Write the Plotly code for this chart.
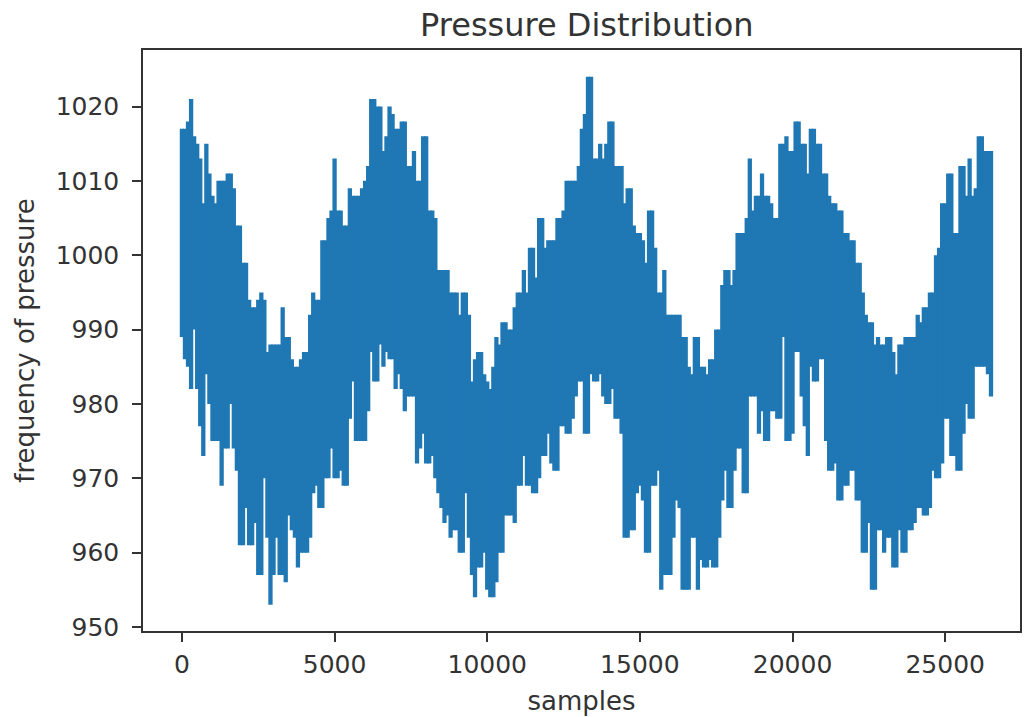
import plotly.graph_objects as go

sample_step = 100
pressure_high = [
1017,1017,1018,1021,1016,1015,1013,1007,1015,1011,
1008,1007,1010,1010,1010,1011,1011,1009,1004,1004,
999,999,994,993,993,994,995,994,987,988,
988,988,988,993,989,989,986,985,985,986,
987,987,992,995,994,994,1002,1002,1005,1006,
1013,1006,1006,1004,1004,1009,1008,1008,1008,1009,
1010,1012,1021,1021,1020,1020,1014,1016,1020,1019,
1017,1017,1018,1018,1012,1012,1014,1010,1010,1016,
1016,1006,1006,1005,998,998,998,998,995,995,
995,992,995,995,992,983,986,987,987,984,
983,982,985,989,988,991,991,990,990,993,
995,995,998,995,1001,1001,997,1005,1005,1001,
1002,1002,1002,1005,1005,1006,1010,1010,1010,1010,
1012,1017,1019,1024,1024,1013,1013,1015,1013,1015,
1018,1018,1012,1012,1012,1007,1009,1009,1004,1003,
1003,1002,999,1006,1006,1001,995,995,998,992,
992,992,992,992,989,989,985,984,989,989,
985,985,984,986,986,990,990,996,998,998,
996,998,1003,1003,1003,1005,1013,1006,1008,1008,
1011,1008,1008,1007,1005,1005,1015,1015,1016,1014,
1014,1018,1018,1015,1015,1011,1017,1017,1015,1015,
1011,1011,1008,1007,1007,1006,1006,1003,1003,1002,
1002,999,999,995,992,991,991,988,989,988,
988,989,989,987,984,988,988,989,989,989,
989,992,991,993,993,995,995,1000,1001,1007,
1007,1011,1011,1003,1003,1012,1012,1008,1013,1008,
1009,1016,1016,1014,1014,1014]
pressure_low = [
989,986,985,982,990,982,977,973,984,980,
975,975,975,969,974,974,980,974,971,961,
961,966,961,961,964,957,957,970,962,953,
957,962,957,957,956,965,963,962,958,960,
960,960,962,968,969,966,966,970,970,974,
970,970,971,969,969,978,983,975,975,975,
975,979,987,983,983,988,985,987,986,986,
982,984,982,979,981,981,981,972,974,976,
972,972,973,970,968,966,964,965,962,963,
963,960,960,968,962,957,954,958,958,960,
955,954,954,956,960,960,965,965,965,964,
969,969,973,969,969,968,968,970,973,973,
976,972,971,971,977,977,976,976,978,981,
983,983,976,976,984,983,983,984,981,980,
980,982,978,978,976,962,962,963,963,968,
969,967,960,960,969,969,971,955,957,957,
957,962,967,966,955,955,955,962,962,955,
959,958,958,959,958,958,962,967,971,966,
966,971,974,974,968,968,981,981,981,976,
979,975,975,979,979,978,978,989,975,975,
976,987,987,981,977,973,985,983,983,986,
986,975,971,971,972,967,967,969,969,971,
971,967,967,960,960,964,955,955,963,963,
960,962,962,958,958,963,960,960,963,963,
964,966,966,965,965,966,971,970,970,972,
978,978,973,973,971,971,976,980,978,978,
985,985,985,985,984,981]
x_ticks = [0, 5000, 10000, 15000, 20000, 25000]
y_ticks = [950, 960, 970, 980, 990, 1000, 1010, 1020]

xs, ys = [], []
for i, (lo, hi) in enumerate(zip(pressure_low, pressure_high)):
    xs += [i * sample_step, i * sample_step, None]
    ys += [lo, hi, None]

FONT = "DejaVu Sans"
INK = "#333333"
fig = go.Figure(go.Scatter(x=xs, y=ys, mode="lines", connectgaps=False,
                           line=dict(color="#1f77b4", width=4.3, simplify=False)))
axis = dict(showgrid=False, zeroline=False, showline=True, mirror=True,
            linecolor=INK, linewidth=1.5, ticks="outside", ticklen=9,
            tickwidth=1.5, tickcolor=INK, tickfont=dict(family=FONT, size=25, color=INK))
fig.update_layout(
    width=1024, height=717, paper_bgcolor="white", plot_bgcolor="white",
    margin=dict(l=143, r=2, t=50, b=86), showlegend=False,
    title=dict(text="Pressure Distribution", x=0.573, xanchor="center", y=0.965, yanchor="middle",
               font=dict(family=FONT, size=32, color=INK)),
    xaxis=dict(axis, range=[-1275, 27450], tickvals=x_ticks, ticklabelstandoff=1,
               ticktext=[str(v) for v in x_ticks],
               title=dict(text="samples", font=dict(family=FONT, size=26, color=INK), standoff=14)),
    yaxis=dict(axis, range=[949.46, 1027.6], tickvals=y_ticks, ticklabelstandoff=8,
               ticktext=[str(v) for v in y_ticks],
               title=dict(text="frequency of pressure", font=dict(family=FONT, size=26, color=INK), standoff=14)),
)
fig.write_html("out.html", config={"displayModeBar": False},
               post_script="document.body.style.margin='0';document.documentElement.style.overflow='hidden';")
